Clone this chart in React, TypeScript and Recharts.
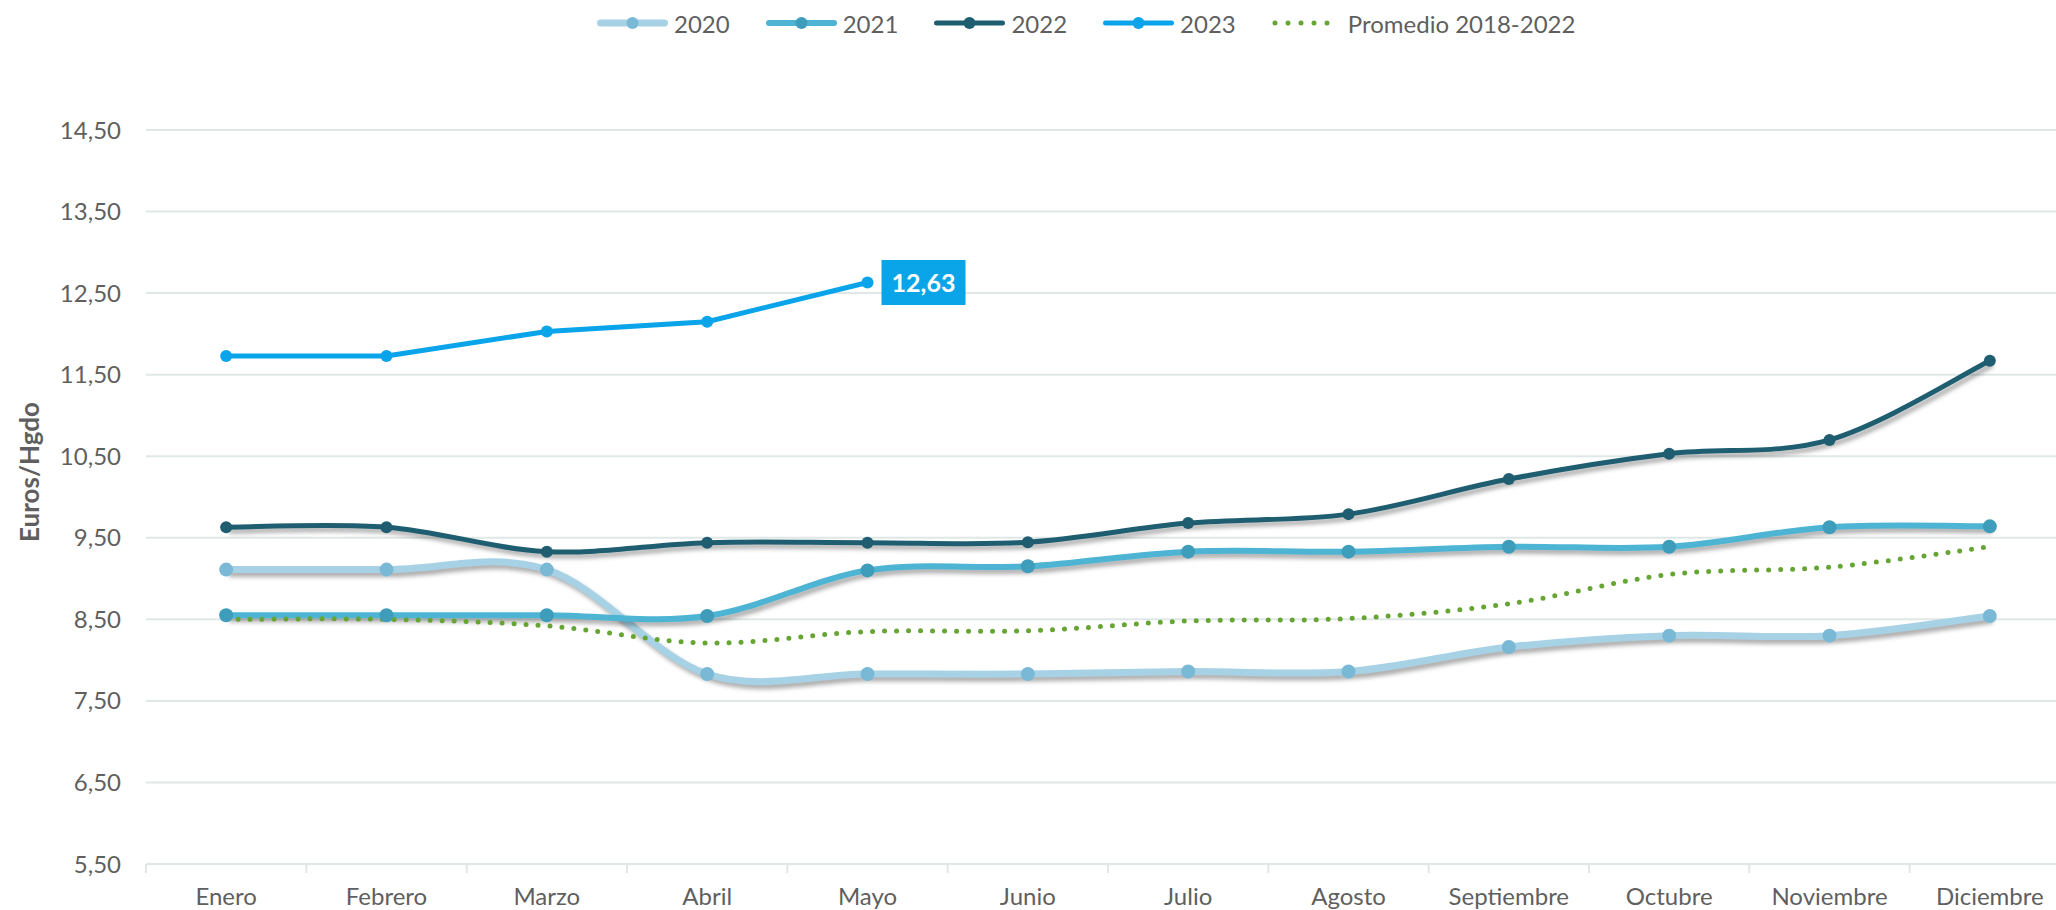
import React from "react";
import { CartesianGrid, Label, LabelList, Legend, Line, LineChart, XAxis, YAxis } from "recharts";

const meses = [
	"Enero", "Febrero", "Marzo", "Abril", "Mayo", "Junio",
	"Julio", "Agosto", "Septiembre", "Octubre", "Noviembre", "Diciembre",
];
const serie2020 = [9.11, 9.11, 9.11, 7.83, 7.83, 7.83, 7.86, 7.86, 8.16, 8.3, 8.3, 8.54];
const serie2021 = [8.55, 8.55, 8.55, 8.54, 9.1, 9.15, 9.33, 9.33, 9.39, 9.39, 9.63, 9.64];
const serie2022 = [9.63, 9.63, 9.33, 9.44, 9.44, 9.445, 9.68, 9.79, 10.22, 10.53, 10.7, 11.67];
const serie2023 = [11.73, 11.73, 12.03, 12.15, 12.63];
const promedio = [8.5, 8.5, 8.42, 8.21, 8.35, 8.36, 8.48, 8.51, 8.69, 9.05, 9.14, 9.39];
const yTicks = [5.5, 6.5, 7.5, 8.5, 9.5, 10.5, 11.5, 12.5, 13.5, 14.5];

const data = meses.map((mes, i) => ({
	mes,
	y2020: serie2020[i],
	y2021: serie2021[i],
	y2022: serie2022[i],
	y2023: i < serie2023.length ? serie2023[i] : null,
	prom: promedio[i],
}));

const W = 2070;
const H = 910;
const Y_AXIS_W = 146;
const BAND = (W - Y_AXIS_W) / 12;
const FONT = "Lato, 'Open Sans', sans-serif";
const GRIS = "#5f5f5f";
const GRID = "#E0E7E7";

const fmt = (v: number) => v.toFixed(2).replace(".", ",");

// Excel-style smoothed line (Catmull-Rom through the points)
function excelCurve(context: any) {
	let pts: number[][] = [];
	return {
		areaStart() {},
		areaEnd() {},
		lineStart() {
			pts = [];
		},
		point(x: number, y: number) {
			pts.push([+x, +y]);
		},
		lineEnd() {
			if (!pts.length) return;
			context.moveTo(pts[0][0], pts[0][1]);
			for (let i = 0; i < pts.length - 1; i++) {
				const p0 = pts[i - 1] || pts[i];
				const p1 = pts[i];
				const p2 = pts[i + 1];
				const p3 = pts[i + 2] || pts[i + 1];
				context.bezierCurveTo(
					p1[0] + (p2[0] - p0[0]) / 6,
					p1[1] + (p2[1] - p0[1]) / 6,
					p2[0] - (p3[0] - p1[0]) / 6,
					p2[1] - (p3[1] - p1[1]) / 6,
					p2[0],
					p2[1],
				);
			}
		},
	};
}

const leyenda = [
	{ name: "2020", color: "#A7D2E5", dot: "#7AB9D6", width: 7 },
	{ name: "2021", color: "#4DB4D3", dot: "#3F9DBC", width: 6 },
	{ name: "2022", color: "#1F5E70", dot: "#1F5E70", width: 5 },
	{ name: "2023", color: "#09A4EA", dot: "#09A4EA", width: 5 },
	{ name: "Promedio 2018-2022", color: "#66A533", dot: null, width: 5 },
];

function LegendContent() {
	return (
		<div style={{ height: 40, display: "flex", alignItems: "center", paddingLeft: 597 }}>
			{leyenda.map((l) => (
				<div key={l.name} style={{ display: "flex", alignItems: "center", marginRight: 36 }}>
					<svg width={l.dot ? 71 : 70} height={20} style={{ display: "block" }}>
						{l.dot ? (
							<g>
								<rect x={0} y={10 - l.width / 2} width={71} height={l.width} rx={l.width / 2} fill={l.color} />
								<circle cx={35.5} cy={10} r={6} fill={l.dot} />
							</g>
						) : (
							<line x1={3} x2={68} y1={10} y2={10} stroke={l.color} strokeWidth={5} strokeDasharray="0 13" strokeLinecap="round" />
						)}
					</svg>
					<span style={{ marginLeft: 6, fontFamily: FONT, fontSize: 24, color: GRIS }}>{l.name}</span>
				</div>
			))}
		</div>
	);
}

function MesTick(props: any) {
	const { x, y, payload } = props;
	return (
		<g>
			<line x1={x - BAND / 2} x2={x - BAND / 2} y1={y - 24} y2={y - 15} stroke={GRID} strokeWidth={2} />
			<text x={x} y={y} dy="0.71em" textAnchor="middle" fontFamily={FONT} fontSize={24} fill={GRIS}>
				{payload.value}
			</text>
		</g>
	);
}

function UltimoValor(props: any) {
	const { x, y, index, value } = props;
	if (index !== serie2023.length - 1) return null;
	return (
		<g>
			<rect x={x + 14} y={y - 22.5} width={84} height={45} fill="#0AA5E8" />
			<text x={x + 56} y={y} dy="0.36em" textAnchor="middle" fontFamily={FONT} fontWeight={700} fontSize={25} fill="#fff">
				{fmt(value)}
			</text>
		</g>
	);
}

export default function App() {
	return (
		<div style={{ position: "fixed", left: 0, top: 0, width: 2056, height: 910, overflow: "hidden", background: "#fff" }}>
			<style>{`.sombra { filter: drop-shadow(3px 4px 2px rgba(0,0,0,0.32)); }`}</style>
			<LineChart width={W} height={H} data={data} margin={{ top: 90, right: 0, left: 0, bottom: 0 }}>
				<CartesianGrid vertical={false} stroke={GRID} strokeWidth={2} />
				<XAxis
					dataKey="mes"
					height={46}
					interval={0}
					padding={{ left: BAND / 2, right: BAND / 2 }}
					axisLine={{ stroke: GRID, strokeWidth: 2 }}
					tickLine={false}
					tickSize={0}
					tickMargin={24}
					tick={<MesTick />}
				/>
				<YAxis
					width={Y_AXIS_W}
					domain={[5.5, 14.5]}
					ticks={yTicks}
					interval={0}
					axisLine={false}
					tickLine={false}
					tickSize={0}
					tickMargin={25}
					tickFormatter={fmt}
					tick={{ fontFamily: FONT, fontSize: 24, fill: GRIS }}
				>
					<Label
						content={() => (
							<text
								x={29}
								y={472}
								transform="rotate(-90 29 472)"
								textAnchor="middle"
								dominantBaseline="central"
								fontFamily={FONT}
								fontWeight={700}
								fontSize={26}
								fill={GRIS}
							>
								Euros/Hgdo
							</text>
						)}
					/>
				</YAxis>
				<Legend verticalAlign="top" align="left" wrapperStyle={{ top: 3, left: 0, width: W }} content={<LegendContent />} />
				<Line
					className="sombra"
					dataKey="y2020"
					type={excelCurve as any}
					stroke="#A7D2E5"
					strokeWidth={7}
					dot={{ r: 7, fill: "#7AB9D6", stroke: "none" }}
					activeDot={false}
					isAnimationActive={false}
				/>
				<Line
					className="sombra"
					dataKey="y2021"
					type={excelCurve as any}
					stroke="#4DB4D3"
					strokeWidth={6}
					dot={{ r: 7, fill: "#3F9DBC", stroke: "none" }}
					activeDot={false}
					isAnimationActive={false}
				/>
				<Line
					className="sombra"
					dataKey="y2022"
					type={excelCurve as any}
					stroke="#1F5E70"
					strokeWidth={5}
					dot={{ r: 6, fill: "#1F5E70", stroke: "none" }}
					activeDot={false}
					isAnimationActive={false}
				/>
				<Line
					dataKey="y2023"
					type="linear"
					stroke="#09A4EA"
					strokeWidth={5}
					dot={{ r: 6, fill: "#09A4EA", stroke: "none" }}
					activeDot={false}
					isAnimationActive={false}
				>
					<LabelList dataKey="y2023" content={<UltimoValor />} />
				</Line>
				<Line
					dataKey="prom"
					type={excelCurve as any}
					stroke="#66A533"
					strokeWidth={5}
					strokeDasharray="0 12"
					strokeLinecap="round"
					dot={false}
					activeDot={false}
					isAnimationActive={false}
				/>
			</LineChart>
		</div>
	);
}
